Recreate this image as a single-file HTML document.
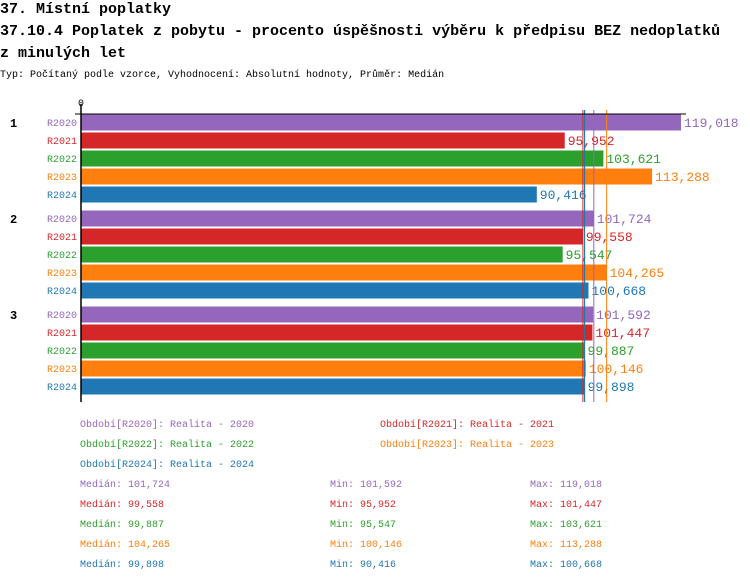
<!DOCTYPE html>
<html><head><meta charset="utf-8"><style>
body{margin:0;background:#fff;width:750px;height:582px;overflow:hidden;font-family:"Liberation Mono",monospace}
svg text{font-family:"Liberation Mono","DejaVu Sans Mono",monospace}
</style></head><body>
<svg id="c" width="750" height="582">
<text x="0" y="13" font-size="15" font-weight="bold">37. Místní poplatky</text>
<text x="0" y="35" font-size="15" font-weight="bold">37.10.4 Poplatek z pobytu - procento úspěšnosti výběru k předpisu BEZ nedoplatků</text>
<text x="0" y="57" font-size="15" font-weight="bold">z minulých let</text>
<text x="0" y="77" font-size="10">Typ: Počítaný podle vzorce, Vyhodnocení: Absolutní hodnoty, Průměr: Medián</text>
<g id="g"></g>
</svg>
<script>
const groups=['1','2','3'];
const series=['R2020','R2021','R2022','R2023','R2024'];
const colors=['#9467bd','#d62728','#2ca02c','#ff7f0e','#1f77b4'];
const v2020=[119018,101724,101592];
const v2021=[95952,99558,101447];
const v2022=[103621,95547,99887];
const v2023=[113288,104265,100146];
const v2024=[90416,100668,99898];
const medians=[101724,99558,99887,104265,99898];
const mins=[101592,95952,95547,100146,90416];
const maxs=[119018,101447,103621,113288,100668];
const legendLabels=['Období[R2020]: Realita - 2020','Období[R2021]: Realita - 2021','Období[R2022]: Realita - 2022','Období[R2023]: Realita - 2023','Období[R2024]: Realita - 2024'];
const vals=[v2020,v2021,v2022,v2023,v2024];
const NS='http://www.w3.org/2000/svg',G=document.getElementById('g');
const x0=81,maxV=119018,W=600;
const xs=v=>x0+v/maxV*W;
const fmt=v=>v.toLocaleString('en-US');
function el(t,a,txt){const e=document.createElementNS(NS,t);for(const k in a)e.setAttribute(k,a[k]);if(txt!=null)e.textContent=txt;G.appendChild(e);return e;}
const gy=gi=>114+gi*96;
groups.forEach((g,gi)=>{
  const t=el('text',{x:10,y:gy(gi)+13,'font-size':12,'font-weight':'bold'},g);
  
  
  series.forEach((s,si)=>{
    const y=gy(gi)+si*18,v=vals[si][gi];
    const l=el('text',{x:77,y:y+12,'font-size':10,fill:colors[si],'text-anchor':'end'},s);
    
    
    const r=el('rect',{x:x0,y:y+0.5,width:xs(v)-x0,height:16,fill:colors[si]});
    
    
    const vt=el('text',{x:xs(v)+3,y:y+13,'font-size':13,fill:colors[si]},fmt(v));
    
    
  });
});
medians.forEach((m,i)=>{
  const ln=el('line',{x1:xs(m),x2:xs(m),y1:110,y2:402,stroke:colors[i],'stroke-width':1});
  
  
});
const ax=el('line',{x1:81,x2:81,y1:104,y2:402,stroke:'#000','stroke-width':1.5});


const tx=el('line',{x1:75,x2:686,y1:114,y2:114,stroke:'#000','stroke-width':1});


const z=el('text',{x:81,y:106,'font-size':10,'text-anchor':'middle'},'0');


legendLabels.forEach((s,i)=>{
  const t=el('text',{x:i%2?380:80,y:427+Math.floor(i/2)*20,'font-size':10,fill:colors[i]},s);
  
  
});
series.forEach((s,i)=>{
  const y=487+i*20;
  const a=el('text',{x:80,y:y,'font-size':10,fill:colors[i]},'Medián: '+fmt(medians[i]));
  
  
  const b=el('text',{x:330,y:y,'font-size':10,fill:colors[i]},'Min: '+fmt(mins[i]));
  
  
  const c=el('text',{x:530,y:y,'font-size':10,fill:colors[i]},'Max: '+fmt(maxs[i]));
  
  
});
</script>
</body></html>
